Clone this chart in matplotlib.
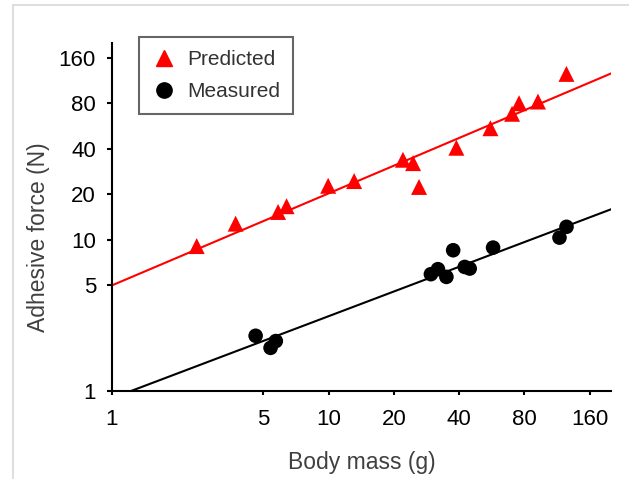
import numpy as np
import matplotlib
matplotlib.use("Agg")
import matplotlib.pyplot as plt
from matplotlib.lines import Line2D

plt.rcParams["font.family"] = ["Liberation Sans", "DejaVu Sans"]

# predicted adhesive force (red triangles)
pred_mass = [2.46, 3.72, 5.84, 6.39, 9.94, 13.1, 22.0, 24.5, 26.1, 38.8, 55.7, 70.1, 75.5, 92.3, 124.9]
pred_force = [9.1, 12.8, 15.3, 16.7, 22.8, 24.5, 33.9, 32.2, 22.4, 40.7, 54.8, 68.3, 80.2, 82.3, 125.4]

# measured adhesive force (black circles)
meas_mass = [4.60, 5.39, 5.70, 29.6, 31.9, 34.9, 37.5, 42.4, 44.7, 57.3, 116.0, 125.0]
meas_force = [2.32, 1.93, 2.14, 5.93, 6.40, 5.69, 8.54, 6.62, 6.46, 8.89, 10.35, 12.2]

# power-law fit lines: force = a * mass ** b
pred_fit = (5.0, 0.609)
meas_fit = (0.896, 0.543)

xticks = [1, 5, 10, 20, 40, 80, 160]
yticks = [1, 5, 10, 20, 40, 80, 160]

fig = plt.figure(figsize=(6.29, 4.79), dpi=100)
ax = fig.add_axes([0.178, 0.1837, 0.793, 0.726])

xfit = np.logspace(0, np.log10(200), 100)
ax.plot(xfit, pred_fit[0] * xfit ** pred_fit[1], color="red", lw=1.5, zorder=2)
ax.plot(xfit, meas_fit[0] * xfit ** meas_fit[1], color="black", lw=1.5, zorder=2)

ax.scatter(pred_mass, pred_force, marker="^", s=11.5 ** 2, color="red", edgecolors="none", zorder=3)
ax.scatter(meas_mass, meas_force, marker="o", s=10.5 ** 2, color="black", edgecolors="none", zorder=3)

ax.set_xscale("log")
ax.set_yscale("log")
ax.set_xlim(1, 200)
ax.set_ylim(1, 200)
ax.set_xticks(xticks)
ax.set_xticklabels([str(t) for t in xticks])
ax.set_yticks(yticks)
ax.set_yticklabels([str(t) for t in yticks])
ax.minorticks_off()

for side in ["top", "right"]:
    ax.spines[side].set_visible(False)
for side in ["left", "bottom"]:
    ax.spines[side].set_linewidth(1.5)
ax.tick_params(axis="both", direction="out", width=1.5, labelsize=16, colors="black")
ax.tick_params(axis="x", length=3, pad=10)
ax.tick_params(axis="y", length=3.5, pad=8)

ax.set_xlabel("Body mass (g)", fontsize=16.5, color="#404040", labelpad=15)
ax.set_ylabel("Adhesive force (N)", fontsize=16.5, color="#404040", labelpad=6)
ax.yaxis.label.set_y(0.443)

handles = [
    Line2D([], [], marker="^", color="red", ls="", ms=12),
    Line2D([], [], marker="o", color="black", ls="", ms=11),
]
leg = ax.legend(handles, ["Predicted", "Measured"], loc="upper left",
                bbox_to_anchor=(0.054, 1.018), fontsize=15, frameon=True,
                fancybox=False, handletextpad=0.5, borderpad=0.62,
                labelspacing=0.65, handlelength=1.2, borderaxespad=0)
leg.get_frame().set_edgecolor("#404040")
leg.get_frame().set_linewidth(1.5)
for t in leg.get_texts():
    t.set_color("#333333")

# light gray frame around the figure panel
fig.add_artist(Line2D([13 / 629, 13 / 629], [0, 1 - 5 / 479], color="#d8d8d8", lw=1.2))
fig.add_artist(Line2D([13 / 629, 1], [1 - 5 / 479, 1 - 5 / 479], color="#d8d8d8", lw=1.2))

fig.savefig("out.png", dpi=100)
